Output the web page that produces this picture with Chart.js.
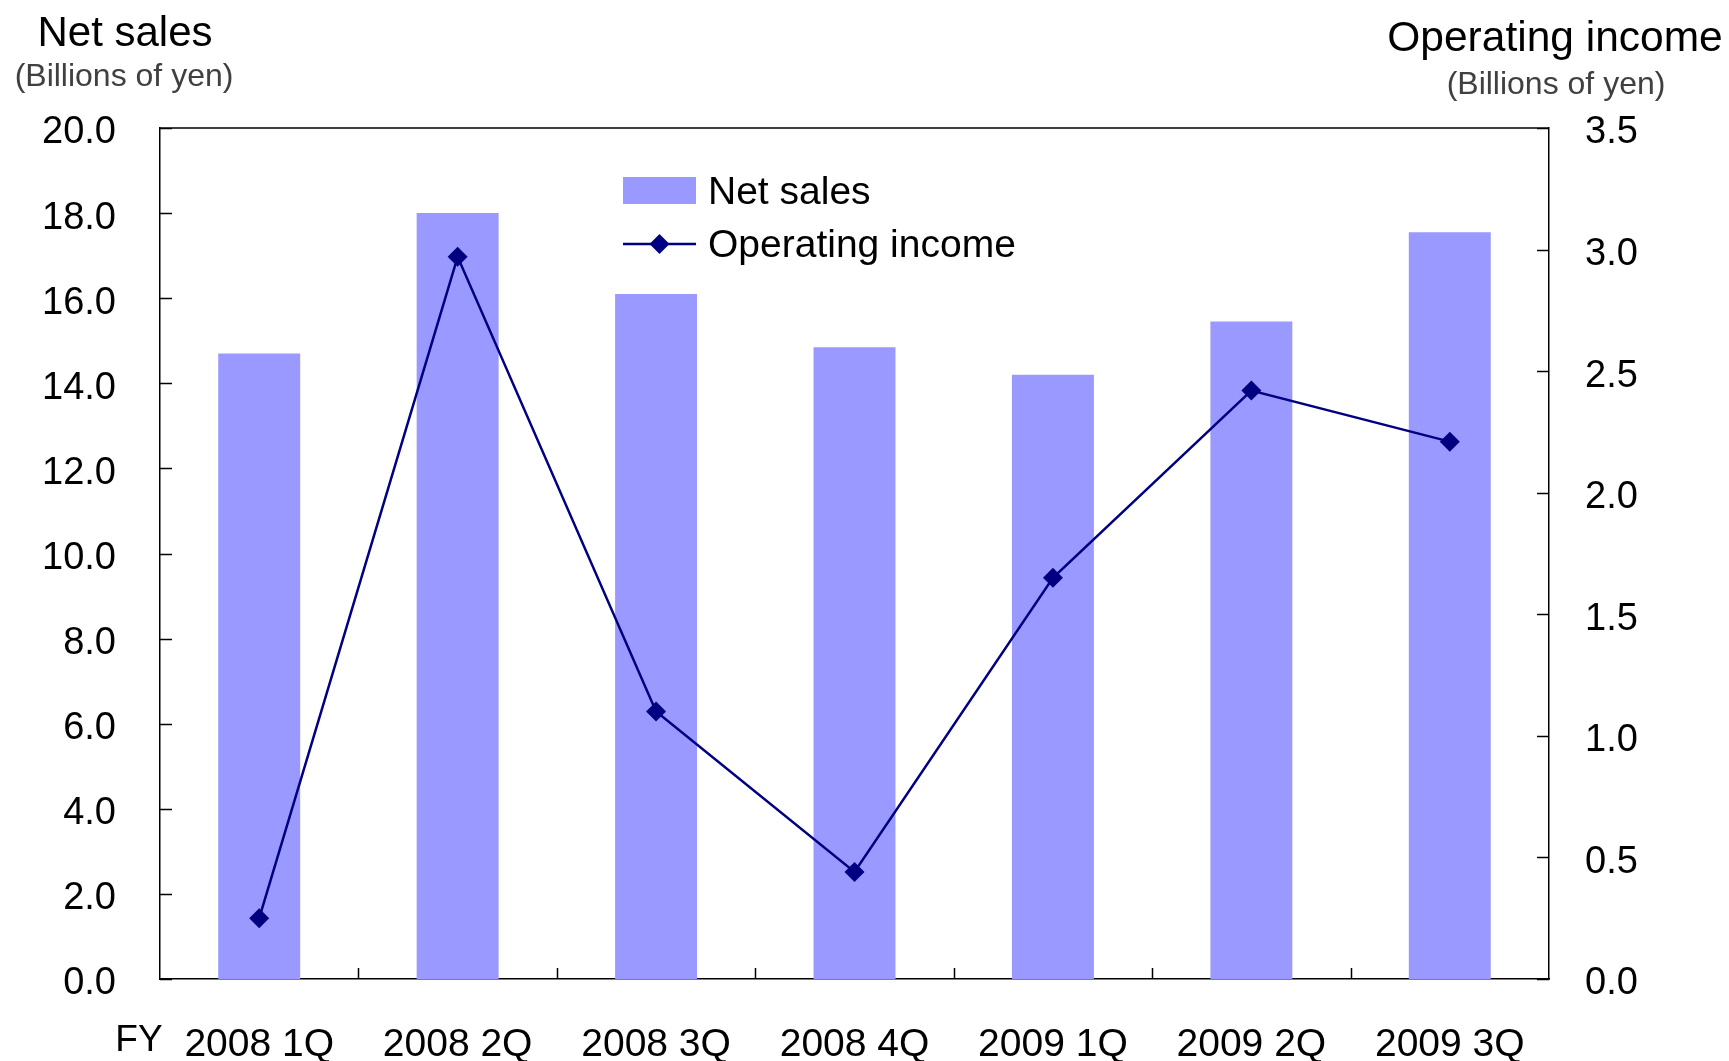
<!DOCTYPE html>
<html>
<head>
<meta charset="utf-8">
<title>Net sales / Operating income</title>
<script src="https://cdn.jsdelivr.net/npm/chart.js@4.4.1/dist/chart.umd.min.js"></script>
<style>
  html, body { margin: 0; padding: 0; background: #fff; }
  #wrap { width: 1729px; height: 1061px; }
</style>
</head>
<body>
<div id="wrap"><canvas id="chart"></canvas></div>
<script>
// quarters and values (billions of yen)
const quarters = ['2008 1Q', '2008 2Q', '2008 3Q', '2008 4Q', '2009 1Q', '2009 2Q', '2009 3Q'];
const netSales = [14.7, 18.0, 16.1, 14.85, 14.2, 15.45, 17.55];
const operatingIncome = [0.25, 2.97, 1.10, 0.44, 1.65, 2.42, 2.21];
const salesTicks = [0, 20, 2];
const incomeTicks = [0, 3.5, 0.5];

const FONT = '"Liberation Sans", Arial, sans-serif';
const BAR_COLOR = '#9999ff';
const LINE_COLOR = '#000080';

// ticks point into the plot area, plus the top edge of the frame
const frameTicks = {
    id: 'frameTicks',
    afterDraw(chart) {
        const ctx = chart.ctx;
        const a = chart.chartArea;
        const x = chart.scales.x, y = chart.scales.y, y1 = chart.scales.y1;
        ctx.save();
        ctx.strokeStyle = '#000';
        ctx.lineWidth = 1.5;
        ctx.beginPath();
        ctx.moveTo(a.left, a.top);
        ctx.lineTo(a.right, a.top);
        y.ticks.forEach(t => {
            const py = Math.round(y.getPixelForValue(t.value)) + 0.5;
            ctx.moveTo(a.left, py);
            ctx.lineTo(a.left + 12, py);
        });
        y1.ticks.forEach(t => {
            const py = Math.round(y1.getPixelForValue(t.value)) + 0.5;
            ctx.moveTo(a.right, py);
            ctx.lineTo(a.right - 12, py);
        });
        for (let i = 1; i < quarters.length; i++) {
            const px = Math.round((x.getPixelForValue(i - 1) + x.getPixelForValue(i)) / 2) + 0.5;
            ctx.moveTo(px, a.bottom);
            ctx.lineTo(px, a.bottom - 11);
        }
        ctx.stroke();
        ctx.restore();
    }
};

// axis titles, "FY" and the legend
const labels = {
    id: 'labels',
    afterDraw(chart) {
        const ctx = chart.ctx;
        ctx.save();
        ctx.textAlign = 'center';
        ctx.textBaseline = 'alphabetic';
        ctx.fillStyle = '#000';
        ctx.font = '42px ' + FONT;
        ctx.fillText('Net sales', 125, 46);
        ctx.font = '42.5px ' + FONT;
        ctx.fillText('Operating income', 1555, 51);
        ctx.fillStyle = '#404040';
        ctx.font = '32px ' + FONT;
        ctx.fillText('(Billions of yen)', 124, 86);
        ctx.fillText('(Billions of yen)', 1556, 94);

        ctx.fillStyle = '#000';
        ctx.font = '37px ' + FONT;
        ctx.textBaseline = 'middle';
        ctx.fillText('FY', 139, 1041);

        // legend
        const bars = chart.data.datasets[0], line = chart.data.datasets[1];
        ctx.textAlign = 'left';
        ctx.font = '39px ' + FONT;
        ctx.fillStyle = bars.backgroundColor;
        ctx.fillRect(623, 177, 73, 27);
        ctx.fillStyle = '#000';
        ctx.fillText(bars.label, 708, 193);

        ctx.strokeStyle = line.borderColor;
        ctx.lineWidth = 2.5;
        ctx.beginPath();
        ctx.moveTo(623, 244);
        ctx.lineTo(696, 244);
        ctx.stroke();
        ctx.fillStyle = line.backgroundColor;
        ctx.beginPath();
        ctx.moveTo(659.5, 234);
        ctx.lineTo(669.5, 244);
        ctx.lineTo(659.5, 254);
        ctx.lineTo(649.5, 244);
        ctx.closePath();
        ctx.fill();
        ctx.fillStyle = '#000';
        ctx.fillText(line.label, 708, 246);
        ctx.restore();
    }
};

new Chart(document.getElementById('chart'), {
    data: {
        labels: quarters,
        datasets: [
            {
                type: 'bar',
                label: 'Net sales',
                data: netSales,
                backgroundColor: BAR_COLOR,
                yAxisID: 'y',
                barPercentage: 0.413,
                categoryPercentage: 1.0,
                order: 2
            },
            {
                type: 'line',
                label: 'Operating income',
                data: operatingIncome,
                borderColor: LINE_COLOR,
                backgroundColor: LINE_COLOR,
                borderWidth: 2.5,
                pointStyle: 'rectRot',
                pointRadius: 10,
                pointBorderWidth: 0,
                tension: 0,
                yAxisID: 'y1',
                order: 1
            }
        ]
    },
    options: {
        responsive: true,
        maintainAspectRatio: false,
        animation: false,
        layout: { padding: { top: 128, left: 0, right: 0, bottom: 0 } },
        plugins: {
            legend: { display: false },
            tooltip: { enabled: false }
        },
        scales: {
            x: {
                offset: true,
                grid: { display: false, drawTicks: false },
                border: { display: true, color: '#000', width: 1.5 },
                ticks: {
                    color: '#000',
                    font: { family: FONT, size: 39 },
                    padding: 43,
                    maxRotation: 0,
                    autoSkip: false
                },
                afterFit(scale) { scale.height = 82; }
            },
            y: {
                position: 'left',
                min: salesTicks[0],
                max: salesTicks[1],
                grid: { display: false, drawTicks: false },
                border: { display: true, color: '#000', width: 1.5 },
                ticks: {
                    stepSize: salesTicks[2],
                    color: '#000',
                    font: { family: FONT, size: 38 },
                    padding: 44,
                    labelOffset: 5,
                    callback: v => v.toFixed(1)
                },
                afterFit(scale) { scale.width = 160; }
            },
            y1: {
                position: 'right',
                min: incomeTicks[0],
                max: incomeTicks[1],
                grid: { display: false, drawTicks: false },
                border: { display: true, color: '#000', width: 1.5 },
                ticks: {
                    stepSize: incomeTicks[2],
                    color: '#000',
                    font: { family: FONT, size: 38 },
                    padding: 36,
                    labelOffset: 5,
                    callback: v => v.toFixed(1)
                },
                afterFit(scale) { scale.width = 180; }
            }
        }
    },
    plugins: [frameTicks, labels]
});
</script>
</body>
</html>
